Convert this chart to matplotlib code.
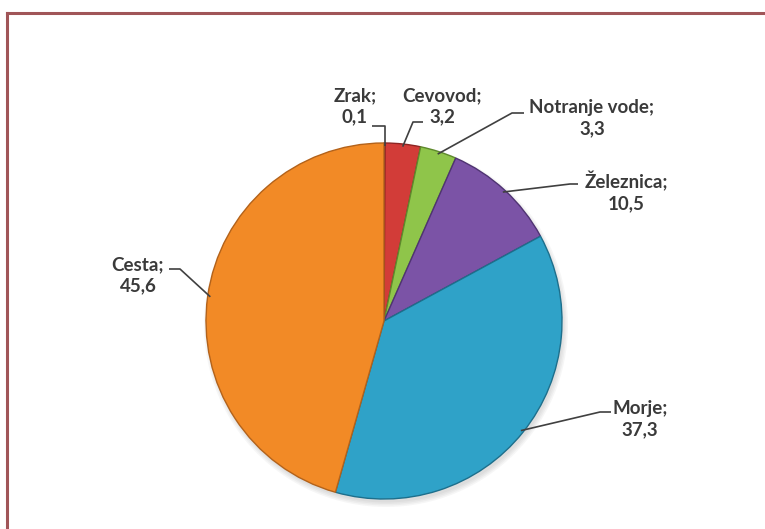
import numpy as np
import matplotlib.pyplot as plt
from matplotlib.lines import Line2D

# Shares of transport modes (%)
labels = ["Zrak", "Cevovod", "Notranje vode", "Železnica", "Morje", "Cesta"]
values = [0.1, 3.2, 3.3, 10.5, 37.3, 45.6]
colors = ["#2f4f8f", "#d23c38", "#8fc54a", "#7b53a6", "#2fa2c8", "#f28a26"]
edges = ["#20355f", "#8e2422", "#5e8a2c", "#4f3372", "#1d6f8c", "#b3621a"]

W, H = 765, 529
cx, cy, R = 384, H - 321, 178

# label block centre (px, y down) and leader points near the text
label_pos = [(355, 106), (442, 106), (592, 118), (626, 192), (640, 419), (138, 275)]
leaders = [
    [(372, 126), (385, 126)],
    [(423, 122), (413, 122)],
    [(524, 113), (512, 113)],
    [(578, 184), (570, 184)],
    [(611, 412), (600, 412)],
    [(169, 269), (180, 269)],
]

plt.rcParams['font.family'] = ['Lato', 'DejaVu Sans']
fig = plt.figure(figsize=(W / 100, H / 100), dpi=100)
fig.patch.set_facecolor("white")
ax = fig.add_axes([0, 0, 1, 1])

# soft shadow under the pie
for k in range(4):
    circ = plt.Circle((cx + 2, cy - 4), R + 4 - k * 1.5, color="#555555", alpha=0.05, lw=0)
    ax.add_patch(circ)

wedges, _ = ax.pie(values, startangle=90, counterclock=False, colors=colors,
                   center=(cx, cy), radius=R,
                   wedgeprops=dict(linewidth=1.0))
for w, ec in zip(wedges, edges):
    w.set_edgecolor(ec)

ax.set_xlim(0, W)
ax.set_ylim(0, H)
ax.set_aspect("equal")
ax.axis("off")

for i, (w, lab, val) in enumerate(zip(wedges, labels, values)):
    mid = np.deg2rad((w.theta1 + w.theta2) / 2)
    ex, ey = cx + 0.985 * R * np.cos(mid), cy + 0.985 * R * np.sin(mid)
    pts = leaders[i]
    if i == 0:
        xs = [pts[0][0], pts[1][0], pts[1][0]]
    else:
        xs = [pts[0][0], pts[1][0], ex]
    ys = [H - pts[0][1], H - pts[1][1], ey]
    ax.plot(xs, ys, color="#404040", lw=1.2, solid_capstyle="butt")
    tx, ty = label_pos[i]
    txt = f"{lab};\n{str(val).replace('.', ',')}"
    ax.text(tx, H - ty, txt, ha="center", va="center", fontsize=13.5,
            fontweight="bold", color="#3a3a3a", linespacing=1.3)

# frame around the chart area
fig.add_artist(Line2D([7 / W, 1], [1 - 13 / H, 1 - 13 / H], color="#a05558", lw=2.2))
fig.add_artist(Line2D([7 / W, 7 / W], [0, 1 - 13 / H], color="#a05558", lw=2.2))

fig.savefig("out.png", dpi=100)
